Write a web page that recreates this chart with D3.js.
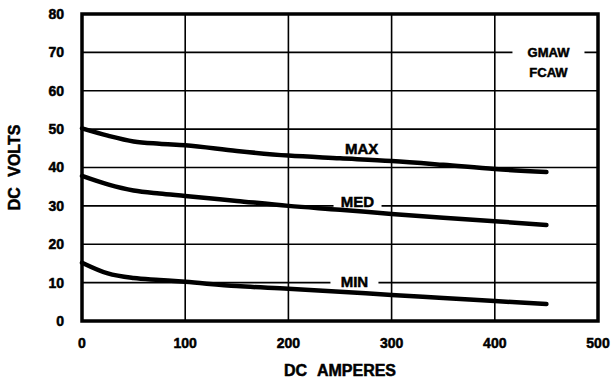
<!DOCTYPE html>
<html>
<head>
<meta charset="utf-8">
<script src="https://cdn.jsdelivr.net/npm/d3@7"></script>
<style>
  body { margin: 0; background: #fff; }
  text { font-family: "Liberation Sans", Arial, sans-serif; font-weight: bold; fill: #000; stroke: #000; stroke-width: 0.5; }
</style>
</head>
<body>
<script>
const width = 613;
const height = 383;
const margin = { top: 14, right: 15, bottom: 62, left: 82 };

const xTicks = [0, 100, 200, 300, 400, 500];
const yTicks = [0, 10, 20, 30, 40, 50, 60, 70, 80];

const amperes = [0, 25, 50, 75, 100, 150, 200, 250, 300, 350, 400, 450];
const maxVolts = [50.2, 48.3, 46.8, 46.2, 45.8, 44.3, 43.1, 42.4, 41.7, 40.7, 39.6, 38.8];
const medVolts = [37.8, 35.6, 34.0, 33.2, 32.6, 31.3, 30.0, 29.0, 27.9, 26.9, 26.0, 25.0];
const minVolts = [15.2, 12.4, 11.2, 10.7, 10.2, 9.1, 8.4, 7.6, 6.8, 6.0, 5.2, 4.4];

const series = [
  { name: "MAX", values: maxVolts, label: [271, 44.8] },
  { name: "MED", values: medVolts, label: [267, 31.2] },
  { name: "MIN", values: minVolts, label: [264, 10.3] },
];

const svg = d3.select("body").append("svg")
  .attr("width", width)
  .attr("height", height);

const x = d3.scaleLinear().domain([0, 500]).range([margin.left, width - margin.right]);
const y = d3.scaleLinear().domain([0, 80]).range([height - margin.bottom, margin.top]);

// grid
svg.append("g")
  .selectAll("line")
  .data(xTicks.slice(1, -1))
  .join("line")
  .attr("x1", (d) => x(d)).attr("x2", (d) => x(d))
  .attr("y1", y(0)).attr("y2", y(80))
  .attr("stroke", "#000").attr("stroke-width", 1.6);

svg.append("g")
  .selectAll("line")
  .data(yTicks.slice(1, -1))
  .join("line")
  .attr("x1", x(0)).attr("x2", x(500))
  .attr("y1", (d) => y(d)).attr("y2", (d) => y(d))
  .attr("stroke", "#000").attr("stroke-width", 1.6);

// curve labels with white background (under the curves)
const etiquetas = svg.append("g")
  .selectAll("g")
  .data(series)
  .join("g")
  .attr("transform", (d) => `translate(${x(d.label[0])}, ${y(d.label[1])})`);

etiquetas.append("rect")
  .attr("x", -24).attr("y", -10)
  .attr("width", 48).attr("height", 20)
  .attr("fill", "#fff")
  .attr("stroke", "none");

etiquetas.append("text")
  .attr("text-anchor", "middle")
  .attr("dy", "0.35em")
  .attr("font-size", 15)
  .text((d) => d.name);

// curves
const linea = d3.line()
  .x((d, i) => x(amperes[i]))
  .y((d) => y(d))
  .curve(d3.curveMonotoneX);

svg.append("g")
  .selectAll("path")
  .data(series)
  .join("path")
  .attr("d", (d) => linea(d.values))
  .attr("fill", "none")
  .attr("stroke", "#000")
  .attr("stroke-width", 4.5)
  .attr("stroke-linecap", "round");

// process label
const proceso = svg.append("g")
  .attr("transform", `translate(${x(452)}, ${y(70)})`);
proceso.append("rect")
  .attr("x", -36).attr("y", -14)
  .attr("width", 72).attr("height", 40)
  .attr("fill", "#fff");
proceso.append("text")
  .attr("text-anchor", "middle").attr("dy", "0.35em")
  .attr("font-size", 13).text("GMAW");
proceso.append("text")
  .attr("text-anchor", "middle").attr("y", 20).attr("dy", "0.35em")
  .attr("font-size", 13).text("FCAW");

// frame
svg.append("rect")
  .attr("x", x(0)).attr("y", y(80))
  .attr("width", x(500) - x(0))
  .attr("height", y(0) - y(80))
  .attr("fill", "none")
  .attr("stroke", "#000")
  .attr("stroke-width", 3.5);

// tick labels
svg.append("g")
  .selectAll("text")
  .data(xTicks)
  .join("text")
  .attr("x", (d) => x(d))
  .attr("y", height - margin.bottom + 27)
  .attr("text-anchor", "middle")
  .attr("font-size", 14)
  .text((d) => d);

svg.append("g")
  .selectAll("text")
  .data(yTicks)
  .join("text")
  .attr("x", margin.left - 18)
  .attr("y", (d) => y(d))
  .attr("dy", "0.35em")
  .attr("text-anchor", "end")
  .attr("font-size", 14)
  .text((d) => d);

// axis titles
svg.append("text")
  .attr("x", (x(0) + x(500)) / 2)
  .attr("y", 376)
  .attr("text-anchor", "middle")
  .attr("font-size", 16)
  .attr("word-spacing", 6)
  .text("DC AMPERES");

svg.append("text")
  .attr("transform", `translate(20, ${y(40)}) rotate(-90)`)
  .attr("text-anchor", "middle")
  .attr("font-size", 16)
  .attr("word-spacing", 6)
  .text("DC VOLTS");
</script>
</body>
</html>
